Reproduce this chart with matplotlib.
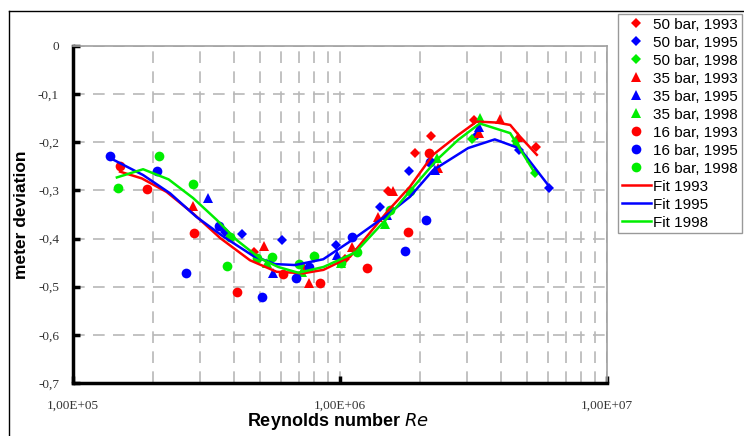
import matplotlib
matplotlib.use("Agg")
import matplotlib.pyplot as plt
from matplotlib.lines import Line2D
from matplotlib.ticker import FixedLocator, FuncFormatter, LogLocator, NullFormatter

# Reynolds numbers and meter deviation
re_50_1993 = [4.78e5, 1.045e6, 1.51e6, 1.91e6, 2.20e6, 3.17e6, 5.42e6]
dev_50_1993 = [-0.427, -0.442, -0.301, -0.222, -0.187, -0.154, -0.209]
re_50_1995 = [3.71e5, 4.31e5, 6.05e5, 9.66e5, 1.41e6, 1.81e6, 3.25e6, 4.70e6, 6.08e6]
dev_50_1995 = [-0.386, -0.391, -0.402, -0.414, -0.335, -0.260, -0.185, -0.216, -0.294]
re_50_1998 = [3.11e6, 4.55e6, 5.37e6]
dev_50_1998 = [-0.193, -0.198, -0.263]

re_35_1993 = [2.82e5, 5.20e5, 7.33e5, 7.66e5, 1.11e6, 1.39e6, 1.58e6, 2.33e6, 3.32e6, 3.97e6, 4.65e6]
dev_35_1993 = [-0.332, -0.415, -0.462, -0.492, -0.417, -0.356, -0.301, -0.254, -0.181, -0.152, -0.189]
re_35_1995 = [3.21e5, 5.62e5, 9.75e5, 1.50e6, 2.26e6, 3.32e6]
dev_35_1995 = [-0.316, -0.472, -0.434, -0.351, -0.258, -0.168]
re_35_1998 = [5.31e5, 7.18e5, 1.01e6, 1.47e6, 2.30e6, 3.34e6, 4.58e6]
dev_35_1998 = [-0.450, -0.469, -0.450, -0.370, -0.233, -0.150, -0.199]

re_16_1993 = [1.50e5, 1.90e5, 2.84e5, 4.10e5, 6.10e5, 8.41e5, 1.26e6, 1.80e6, 2.15e6]
dev_16_1993 = [-0.249, -0.298, -0.389, -0.510, -0.474, -0.493, -0.462, -0.386, -0.223]
re_16_1995 = [1.38e5, 2.07e5, 2.65e5, 3.53e5, 5.12e5, 6.82e5, 7.66e5, 1.11e6, 1.75e6, 2.10e6, 2.17e6]
dev_16_1995 = [-0.228, -0.260, -0.471, -0.373, -0.521, -0.481, -0.460, -0.396, -0.425, -0.362, -0.241]
re_16_1998 = [1.47e5, 2.10e5, 2.81e5, 3.79e5, 3.87e5, 4.88e5, 5.55e5, 7.02e5, 8.02e5, 1.01e6, 1.16e6, 1.54e6, 1.83e6]
dev_16_1998 = [-0.294, -0.228, -0.286, -0.458, -0.397, -0.441, -0.439, -0.453, -0.436, -0.450, -0.427, -0.341, -0.301]

fit_re_1993 = [1.50e5, 1.81e5, 2.24e5, 2.82e5, 3.56e5, 4.60e5, 5.79e5, 7.29e5, 8.67e5, 1.09e6,
               1.52e6, 1.83e6, 2.23e6, 2.77e6, 3.25e6, 3.86e6, 4.34e6, 4.72e6, 5.46e6]
fit_dev_1993 = [-0.261, -0.275, -0.303, -0.348, -0.399, -0.445, -0.469, -0.472, -0.465, -0.438,
                -0.341, -0.292, -0.226, -0.185, -0.157, -0.159, -0.164, -0.188, -0.226]
fit_re_1995 = [1.38e5, 1.83e5, 2.31e5, 2.90e5, 3.66e5, 4.73e5, 5.71e5, 6.78e5, 8.65e5, 1.09e6,
               1.50e6, 1.83e6, 2.23e6, 3.02e6, 3.80e6, 4.72e6, 6.12e6]
fit_dev_1995 = [-0.233, -0.268, -0.306, -0.355, -0.396, -0.436, -0.453, -0.455, -0.443, -0.406,
                -0.351, -0.313, -0.258, -0.212, -0.194, -0.213, -0.294]
fit_re_1998 = [1.46e5, 1.83e5, 2.28e5, 2.82e5, 3.45e5, 4.10e5, 5.01e5, 5.87e5, 6.98e5, 8.67e5,
               1.09e6, 1.15e6, 1.50e6, 1.83e6, 2.30e6, 2.77e6, 3.34e6, 4.34e6, 4.58e6, 5.37e6]
fit_dev_1998 = [-0.273, -0.256, -0.277, -0.316, -0.361, -0.403, -0.441, -0.459, -0.471, -0.459,
                -0.434, -0.427, -0.358, -0.301, -0.237, -0.195, -0.161, -0.181, -0.202, -0.264]

y_ticks = [0, -0.1, -0.2, -0.3, -0.4, -0.5, -0.6, -0.7]
x_ticks = [1e5, 1e6, 1e7]
x_tick_labels = ["1,00E+05", "1,00E+06", "1,00E+07"]

RED, BLUE, GREEN = "#ff0000", "#0000ff", "#00ee00"

plt.rcParams['font.family'] = ['Liberation Sans', 'DejaVu Sans']

fig = plt.figure(figsize=(7.44, 4.36), dpi=100)
ax = fig.add_axes([73 / 744, 1 - 383 / 436, (607 - 73) / 744, (383 - 46) / 436])

series = [
    (re_50_1993, dev_50_1993, "D", 5, RED, "50 bar, 1993"),
    (re_50_1995, dev_50_1995, "D", 5, BLUE, "50 bar, 1995"),
    (re_50_1998, dev_50_1998, "D", 5, GREEN, "50 bar, 1998"),
    (re_35_1993, dev_35_1993, "^", 6.5, RED, "35 bar, 1993"),
    (re_35_1995, dev_35_1995, "^", 6.5, BLUE, "35 bar, 1995"),
    (re_35_1998, dev_35_1998, "^", 6.5, GREEN, "35 bar, 1998"),
    (re_16_1993, dev_16_1993, "o", 7, RED, "16 bar, 1993"),
    (re_16_1995, dev_16_1995, "o", 7, BLUE, "16 bar, 1995"),
    (re_16_1998, dev_16_1998, "o", 7, GREEN, "16 bar, 1998"),
]
for xs, ys, mk, ms, col, lab in series:
    ax.plot(xs, ys, linestyle="none", marker=mk, markersize=ms, color=col,
            markeredgewidth=0, label=lab, zorder=3)

ax.plot(fit_re_1993, fit_dev_1993, color=RED, lw=1.8, label="Fit 1993", zorder=4)
ax.plot(fit_re_1995, fit_dev_1995, color=BLUE, lw=1.8, label="Fit 1995", zorder=4)
ax.plot(fit_re_1998, fit_dev_1998, color=GREEN, lw=1.8, label="Fit 1998", zorder=4)

ax.set_xscale("log")
ax.set_xlim(1e5, 1e7)
ax.set_ylim(-0.7, 0)

ax.xaxis.set_major_locator(FixedLocator(x_ticks))
ax.xaxis.set_major_formatter(FuncFormatter(lambda v, p: x_tick_labels[x_ticks.index(v)] if v in x_ticks else ""))
ax.xaxis.set_minor_locator(LogLocator(base=10, subs=range(2, 10)))
ax.xaxis.set_minor_formatter(NullFormatter())
ax.yaxis.set_major_locator(FixedLocator(y_ticks))
ax.yaxis.set_major_formatter(FuncFormatter(lambda v, p: "0" if abs(v) < 1e-9 else f"{v:.1f}".replace(".", ",")))

ax.grid(True, which="both", axis="x", color="#b8b8b8", linestyle=(0, (7, 5)), lw=1.2)
ax.grid(True, which="major", axis="y", color="#b8b8b8", linestyle=(0, (7, 5)), lw=1.2)
ax.set_axisbelow(True)

for side in ("left", "bottom"):
    ax.spines[side].set_linewidth(2.5)
    ax.spines[side].set_color("black")
for side in ("top", "right"):
    ax.spines[side].set_linewidth(1.2)
    ax.spines[side].set_color("#a0a0a0")

ax.tick_params(axis="y", which="major", direction="in", length=5, width=2.5, pad=10,
               labelsize=9.5, labelcolor="#333333")
ax.tick_params(axis="x", which="major", direction="in", length=5, width=2.5, pad=12,
               labelsize=9.5, labelcolor="#333333")
ax.tick_params(axis="x", which="minor", length=0)
for lbl in ax.get_xticklabels() + ax.get_yticklabels():
    lbl.set_family(['Liberation Serif', 'DejaVu Serif'])

fig.text(22 / 744, 1 - 215 / 436, "meter deviation", rotation=90, ha="center", va="center",
         fontsize=12.5, fontweight="bold")
fig.text(338 / 744, 4 / 436, r"Reynolds number $\mathbf{\mathit{Re}}$", ha="center",
         va="bottom", fontsize=13, fontweight="bold")

leg = ax.legend(loc="upper left", bbox_to_anchor=(618 / 744, 1 - 14 / 436),
                bbox_transform=fig.transFigure, fontsize=11, frameon=True, fancybox=False,
                edgecolor="#808080", borderpad=0.25, labelspacing=0.26, handlelength=1.9,
                handletextpad=0.15, borderaxespad=0)
leg.get_frame().set_linewidth(1.0)

# outer chart border (left and top visible)
fig.add_artist(Line2D([9 / 744, 9 / 744], [0, 1 - 11 / 436], color="black", lw=1.0))
fig.add_artist(Line2D([9 / 744, 1], [1 - 11 / 436, 1 - 11 / 436], color="black", lw=1.0))

fig.savefig("out.png", dpi=100)
